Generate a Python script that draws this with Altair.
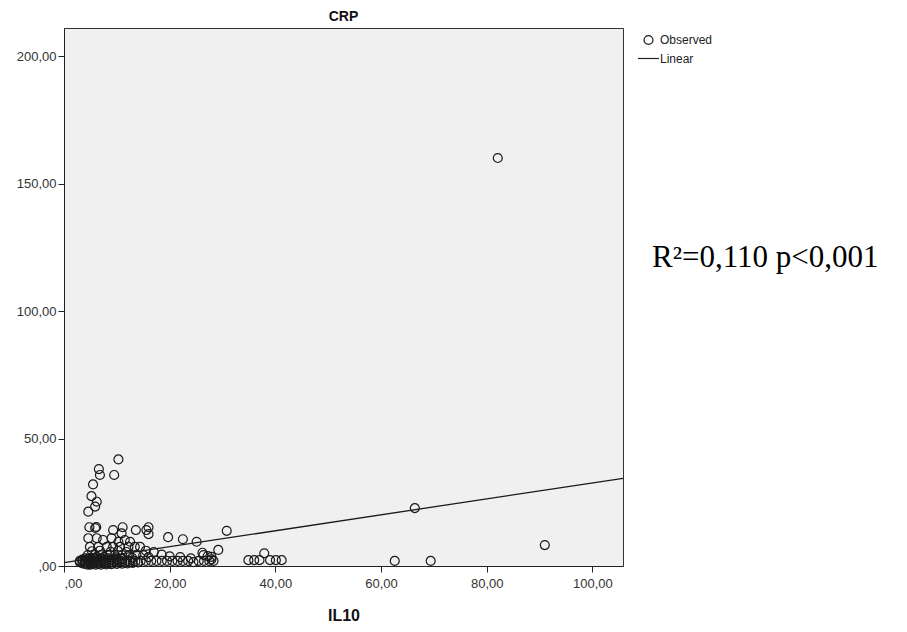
import altair as alt
import pandas as pd

il10 = [82.1, 66.4, 91.0, 62.6, 69.4,
        10.3, 6.6, 6.8, 9.5, 5.5, 5.2, 6.2, 5.9, 4.6,
        4.8, 6.1, 5.9, 9.3, 11.1, 10.9, 13.6, 15.6, 16.0, 16.0, 19.7, 22.5, 25.1, 30.8, 29.2, 26.2, 27.2, 27.9, 37.9,
        4.6, 6.2, 7.4, 9.0, 10.3, 11.5, 12.5,
        4.9, 6.5, 8.1, 9.3, 10.6, 12.2, 13.4, 14.4, 15.5, 17.0, 18.5, 20.0, 22.0, 24.0,
        4.5, 5.8, 7.0, 8.3, 9.6, 11.0, 12.3, 13.7, 15.0, 16.0,
        14.5, 15.5, 16.5, 17.5, 18.5, 19.5, 20.5, 21.5, 22.5, 23.5, 24.5, 25.5, 26.5, 27.5, 28.3,
        34.9, 36.0, 37.0, 39.0, 40.1, 41.2,
        3.0, 3.0, 3.5, 3.5, 3.5, 4.0, 4.0, 4.0, 4.0, 4.5, 4.5, 4.5, 4.5,
        5.0, 5.0, 5.0, 5.0, 5.0, 5.5, 5.5, 5.5, 5.5, 6.0, 6.0, 6.0, 6.0,
        6.5, 6.5, 6.5, 7.0, 7.0, 7.0, 7.0, 7.5, 7.5, 7.5, 8.0, 8.0, 8.0,
        8.5, 8.5, 8.5, 9.0, 9.0, 9.0, 9.5, 9.5, 10.0, 10.0, 10.0, 10.5, 10.5,
        11.0, 11.0, 11.0, 11.5, 12.0, 12.0, 12.5, 13.0, 13.0, 13.5, 14.0,
        5.3, 6.8, 8.8, 10.2, 11.8, 7.6, 9.9, 12.9, 6.2, 26.4, 27.9]
crp = [160.0, 22.7, 8.2, 2.0, 2.0,
       41.8, 38.0, 35.7, 35.7, 32.0, 27.4, 25.2, 23.3, 21.3,
       15.2, 15.3, 14.9, 14.1, 15.2, 12.8, 14.1, 14.1, 15.2, 12.5, 11.3, 10.5, 9.5, 13.8, 6.3, 5.2, 3.9, 2.6, 5.0,
       10.9, 10.9, 10.2, 10.9, 9.5, 10.2, 9.5,
       7.5, 7.5, 7.5, 7.5, 7.5, 7.5, 7.5, 7.5, 6.0, 5.5, 4.5, 3.8, 3.5, 3.0,
       4.3, 4.3, 4.3, 4.3, 4.3, 4.3, 4.3, 4.3, 4.3, 3.5,
       2.0, 2.0, 2.0, 2.0, 2.0, 2.0, 2.0, 2.0, 2.0, 2.0, 1.5, 2.0, 2.0, 2.0, 2.0,
       2.3, 2.3, 2.3, 2.3, 2.3, 2.3,
       1.5, 2.0, 1.0, 2.0, 2.5, 0.8, 1.5, 2.2, 3.0, 0.5, 1.2, 2.0, 2.8,
       0.5, 1.0, 1.8, 2.5, 3.2, 0.8, 1.5, 2.2, 3.0, 0.5, 1.2, 2.0, 2.8,
       0.8, 1.6, 2.4, 0.5, 1.3, 2.1, 3.0, 1.0, 1.8, 2.6, 0.6, 1.4, 2.2,
       1.0, 2.0, 3.0, 0.7, 1.5, 2.4, 1.2, 2.0, 0.8, 1.6, 2.5, 1.2, 2.2,
       0.9, 1.8, 2.8, 1.4, 1.0, 2.0, 1.6, 1.2, 2.2, 1.8, 1.4,
       5.8, 6.0, 5.6, 5.9, 5.5, 3.6, 3.4, 3.2, 3.6, 4.3, 3.6]

# Linear fit line endpoints (IL10 at axis ends, fitted CRP)
fit_x = [0.0, 105.8]
fit_y = [1.3, 34.4]

x_ticks = [0, 20, 40, 60, 80, 100]
y_ticks = [0, 50, 100, 150, 200]
legend_labels = ["Observed", "Linear"]
annotation = "R\u00b2=0,110 p<0,001"

obs = pd.DataFrame({"IL10": il10, "CRP": crp, "kind": "Observed"})
fit = pd.DataFrame({"IL10": fit_x, "CRP": fit_y, "kind": "Linear"})

label_expr = "datum.value == 0 ? ',00' : replace(format(datum.value, '.2f'), '.', ',')"

x_enc = alt.X("IL10:Q",
              scale=alt.Scale(domain=[0, 105.8], nice=False, zero=False),
              axis=alt.Axis(title="IL10", values=x_ticks, labelExpr=label_expr, grid=False))
y_enc = alt.Y("CRP:Q",
              scale=alt.Scale(domain=[0, 211], nice=False, zero=False),
              axis=alt.Axis(title=None, values=y_ticks, labelExpr=label_expr, grid=False))

legend = alt.Legend(title=None, orient="none", legendX=573, legendY=6,
                    labelFontSize=12, labelFont="Liberation Sans", labelColor="#222",
                    symbolStrokeColor="#222", symbolFillColor="transparent",
                    symbolStrokeWidth=1.2, rowPadding=-9, labelOffset=0)

points = alt.Chart(obs).mark_point(filled=False, strokeWidth=1.2, color="#1a1a1a", opacity=1).encode(
    x=x_enc, y=y_enc,
    shape=alt.Shape("kind:O", scale=alt.Scale(domain=legend_labels, range=["circle", "stroke"]), legend=legend),
    size=alt.Size("kind:O", scale=alt.Scale(domain=legend_labels, range=[80, 440]), legend=legend),
)

line = alt.Chart(fit).mark_line(color="#1a1a1a", strokeWidth=1.3).encode(x=x_enc, y=y_enc)

note = alt.Chart(pd.DataFrame({"t": [annotation]})).mark_text(
    align="left", baseline="middle", font="Liberation Serif", fontSize=31, color="#000"
).encode(text="t:N", x=alt.value(588), y=alt.value(230))

chart = alt.layer(line, points, note).properties(
    width=559, height=538,
    background="white",
    title=alt.Title("CRP", fontSize=14, font="Liberation Sans", fontWeight="bold", color="#111", offset=4),
    autosize=alt.AutoSizeParams(type="none"),
    padding={"left": 56, "top": 20, "right": 276, "bottom": 58},
).configure_view(fill="#f0f0f0", stroke="#333", strokeWidth=1).configure_axis(
    grid=False, domainColor="#222", tickColor="#222", tickSize=6, labelFont="Liberation Sans",
    labelFontSize=13, labelColor="#333", titleFont="Liberation Sans", titleFontSize=16,
    titleFontWeight="bold", titleColor="#111"
).configure_axisX(titlePadding=17, labelPadding=5).configure_axisY(labelPadding=2)

chart.save("out.html", embed_options={"renderer": "svg", "actions": False})
